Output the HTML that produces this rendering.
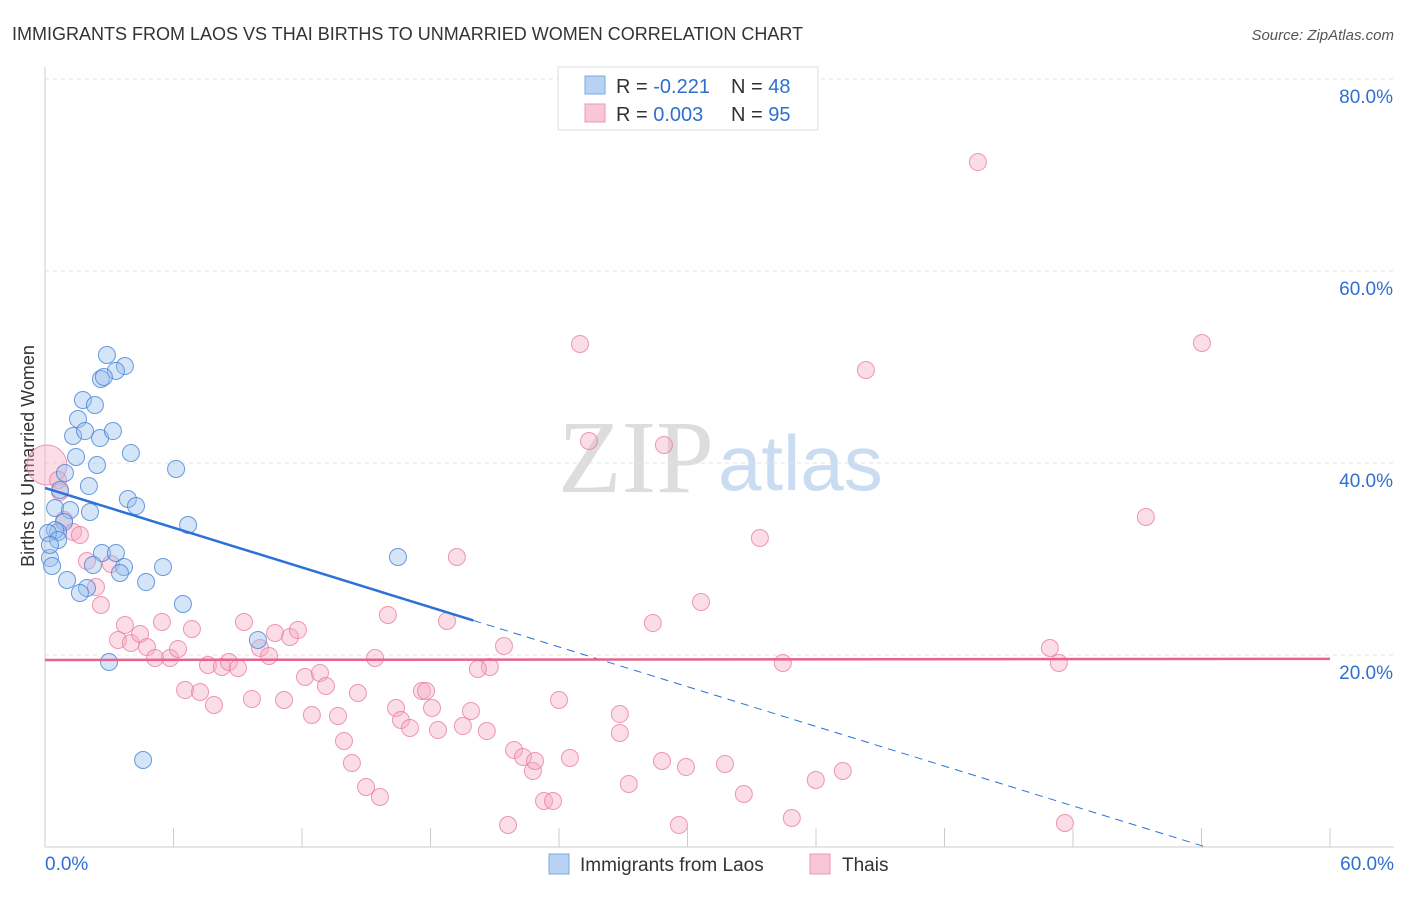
<!DOCTYPE html>
<html><head><meta charset="utf-8"><style>
body{margin:0;background:#fff;font-family:"Liberation Sans",sans-serif}
svg text{font-family:"Liberation Sans",sans-serif}
</style></head><body>
<svg id="c" width="1406" height="892">
<text x="12" y="40" font-size="18" fill="#333">IMMIGRANTS FROM LAOS VS THAI BIRTHS TO UNMARRIED WOMEN CORRELATION CHART</text>
<text x="1394" y="40" font-size="15" fill="#555" font-style="italic" text-anchor="end">Source: ZipAtlas.com</text>
<text x="714" y="492" font-size="104" fill="#ddd" text-anchor="end" style="font-family:'Liberation Serif',serif">ZIP</text>
<text x="718" y="490" font-size="78" fill="#c9dcf2">atlas</text>
<text transform="translate(34,456) rotate(-90)" font-size="18" fill="#333" text-anchor="middle">Births to Unmarried Women</text>
<g id="grid"></g><g id="pts"></g><g id="trend"></g>
<g>
<rect x="558" y="67" width="260" height="63" fill="#fff" stroke="#ddd"/>
<rect x="585" y="76" width="20" height="18" fill="#b8d2f3" stroke="#7aa8e0"/>
<rect x="585" y="104" width="20" height="18" fill="#f9c6d6" stroke="#ec9ab3"/>
<text x="616" y="93" font-size="20" fill="#333">R = <tspan fill="#2f6fd0">-0.221</tspan></text>
<text x="731" y="93" font-size="20" fill="#333">N = <tspan fill="#2f6fd0">48</tspan></text>
<text x="616" y="121" font-size="20" fill="#333">R = <tspan fill="#2f6fd0">0.003</tspan></text>
<text x="731" y="121" font-size="20" fill="#333">N = <tspan fill="#2f6fd0">95</tspan></text>
</g>
<g>
<rect x="549" y="854" width="20" height="20" fill="#b8d2f3" stroke="#7aa8e0"/>
<text x="580" y="871" font-size="19" fill="#333">Immigrants from Laos</text>
<rect x="810" y="854" width="20" height="20" fill="#f9c6d6" stroke="#ec9ab3"/>
<text x="842" y="871" font-size="19" fill="#333">Thais</text>
</g>
</svg>
<script>
const yTicks=[20,40,60,80];
const xTickCount=10;
const xMaxPct=60;
const laosX=[2.89,3.73,3.31,2.61,2.75,1.77,2.33,1.54,1.31,1.87,2.57,3.17,1.45,4.01,2.43,6.12,0.93,2.05,0.7,3.87,4.25,0.47,1.17,2.1,0.89,6.68,0.61,0.47,0.14,16.48,0.23,2.66,3.31,0.33,2.24,3.69,5.51,3.5,1.03,4.72,1.96,1.63,6.44,9.94,2.99,4.58,0.61,0.23];
const laosY=[51.25,50.1,49.6,48.75,48.96,46.56,46.04,44.58,42.81,43.33,42.6,43.33,40.63,41.04,39.79,39.38,38.96,37.6,37.19,36.25,35.52,35.31,35.1,34.9,33.85,33.54,32.81,33.02,32.71,30.21,30.1,30.63,30.63,29.27,29.38,29.17,29.17,28.54,27.81,27.6,26.98,26.46,25.31,21.56,19.27,9.06,31.98,31.46];
const thaiX=[0.09,0.61,0.7,0.89,1.31,1.63,1.96,3.08,2.38,2.61,3.73,3.41,4.01,4.44,4.76,5.46,5.14,5.84,6.21,6.86,6.54,7.24,7.89,7.61,8.26,8.59,9.01,9.29,9.66,10.04,10.46,10.74,11.16,11.44,11.81,12.14,12.46,12.84,13.12,13.68,13.96,14.33,14.61,14.99,15.41,15.64,16.01,16.39,16.62,17.04,17.6,17.79,18.07,18.35,18.77,19.23,19.51,19.89,20.63,20.77,20.21,21.43,21.62,21.9,22.32,22.78,22.88,23.3,23.72,24.0,24.51,24.98,25.4,26.84,26.84,27.26,28.38,28.81,28.9,29.6,29.93,30.63,31.75,32.63,33.38,34.45,34.87,35.99,37.25,38.33,43.56,46.92,47.34,47.62,51.4,54.02];
const thaiY=[39.79,38.23,36.98,34.06,32.81,32.5,29.79,29.48,27.08,25.21,23.13,21.56,21.25,22.19,20.83,23.44,19.69,19.69,20.63,22.71,16.35,16.15,14.79,18.96,18.75,19.27,18.65,23.44,15.42,20.73,19.9,22.29,15.31,21.88,22.6,17.71,13.75,18.13,16.77,13.65,11.04,8.75,16.04,6.25,19.69,5.21,24.17,14.48,13.23,12.4,16.25,16.25,14.48,12.19,23.54,30.21,12.6,14.17,12.08,18.75,18.54,20.94,2.29,10.1,9.38,7.92,8.96,4.79,4.79,15.31,9.27,52.4,42.29,11.88,13.85,6.56,23.33,8.96,41.88,2.29,8.33,25.52,8.65,5.52,32.19,19.17,3.02,6.98,7.92,49.69,71.35,20.73,19.17,2.5,34.38,52.5];
const laosTrend=[37.4,-0.69];
const thaiTrend=[19.48,0.002];
const NS="http://www.w3.org/2000/svg";
const X=v=>45+v*(1285/xMaxPct), Y=v=>847-v*9.6;
function mk(t,a,p){const e=document.createElementNS(NS,t);for(const k in a)e.setAttribute(k,a[k]);p.appendChild(e);return e;}
const g=document.getElementById('grid');
yTicks.forEach(t=>{const l=mk('line',{x1:45,x2:1394,y1:Y(t),y2:Y(t),stroke:'#e3e3e3','stroke-dasharray':'4,4'},g);


const tx=mk('text',{x:1393,y:Y(t)+24,'font-size':19,fill:'#2f6fd0','text-anchor':'end'},g);tx.textContent=t.toFixed(1)+'%';

});
mk('line',{x1:45,x2:45,y1:67,y2:847,stroke:'#ccc'},g);
mk('line',{x1:45,x2:1394,y1:847,y2:847,stroke:'#ccc'},g);
for(let i=0;i<=xTickCount;i++){const x=X(i*xMaxPct/xTickCount);const t=mk('line',{x1:x,x2:x,y1:828,y2:847,stroke:'#ccc'},g);

}
[[0,'0.0%','start',45],[60,'60.0%','end',1394]].forEach(d=>{const tx=mk('text',{x:d[3],y:870,'font-size':19,fill:'#2f6fd0','text-anchor':d[2]},g);tx.textContent=d[1];

});
const p=document.getElementById('pts');
thaiX.forEach((x,i)=>{const c=mk('circle',{cx:X(x),cy:Y(thaiY[i]),r:i==0?20:8.5,fill:'rgba(246,170,196,0.4)',stroke:'rgba(232,120,156,0.75)','stroke-width':1},p);

});
laosX.forEach((x,i)=>{const c=mk('circle',{cx:X(x),cy:Y(laosY[i]),r:8.5,fill:'rgba(150,190,238,0.4)',stroke:'rgba(70,130,215,0.8)','stroke-width':1},p);

});
const tr=document.getElementById('trend');
const lf=x=>laosTrend[0]+laosTrend[1]*x, tf=x=>thaiTrend[0]+thaiTrend[1]*x;
const l1=mk('line',{x1:X(0),y1:Y(lf(0)),x2:X(20),y2:Y(lf(20)),stroke:'#2a72d8','stroke-width':2.5},tr);


const x0=-laosTrend[0]/laosTrend[1];
const l2=mk('line',{x1:X(20),y1:Y(lf(20)),x2:X(x0),y2:Y(0),stroke:'#2a72d8','stroke-width':1,'stroke-dasharray':'8,6'},tr);


const l3=mk('line',{x1:X(0),y1:Y(tf(0)),x2:X(60),y2:Y(tf(60)),stroke:'#e8628c','stroke-width':2.5},tr);


</script>
</body></html>
